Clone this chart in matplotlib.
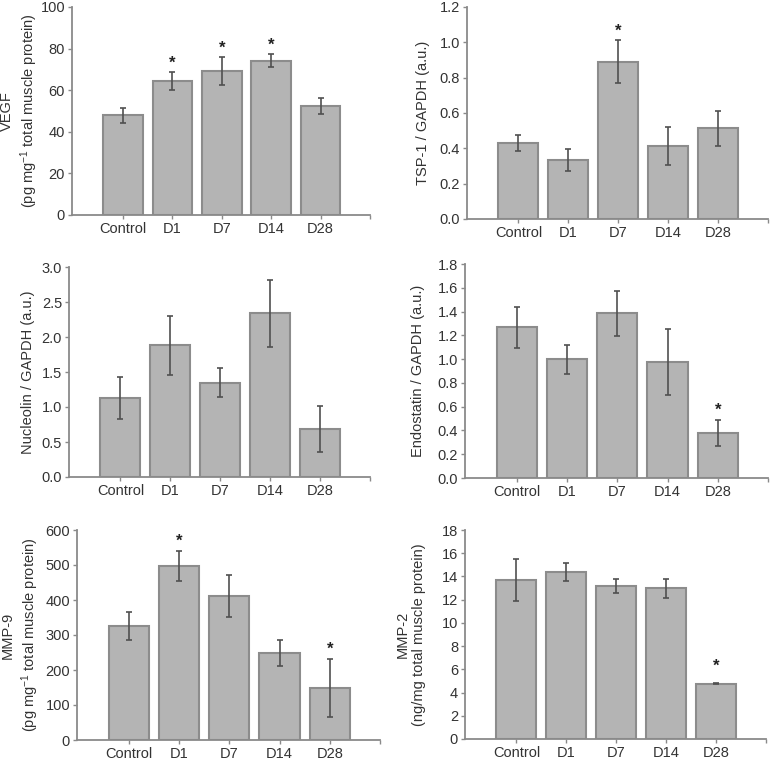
import matplotlib
matplotlib.use("Agg")
import matplotlib.pyplot as plt
from matplotlib.ticker import FormatStrFormatter

plt.rcParams['font.family'] = ['Liberation Sans', 'DejaVu Sans']
plt.rcParams['mathtext.fontset'] = 'custom'
plt.rcParams['mathtext.rm'] = 'Liberation Sans'
plt.rcParams['mathtext.default'] = 'regular'

groups = ['Control', 'D1', 'D7', 'D14', 'D28']

vegf = [48, 64.3, 69.1, 74.2, 52.3]
vegf_err = [3.6, 4.3, 6.8, 3.0, 3.8]

tsp1 = [0.431, 0.332, 0.891, 0.413, 0.514]
tsp1_err = [0.045, 0.063, 0.12, 0.105, 0.10]

nucleolin = [1.13, 1.88, 1.35, 2.34, 0.69]
nucleolin_err = [0.30, 0.42, 0.21, 0.48, 0.33]

endostatin = [1.267, 0.997, 1.384, 0.974, 0.376]
endostatin_err = [0.17, 0.12, 0.19, 0.28, 0.11]

mmp9 = [326, 497, 412, 248, 148]
mmp9_err = [40, 43, 60, 37, 83]

mmp2 = [13.66, 14.4, 13.2, 12.97, 4.77]
mmp2_err = [1.8, 0.75, 0.6, 0.83, 0.05]

# which groups carry a significance star
vegf_sig = [1, 2, 3]
tsp1_sig = [2]
nucleolin_sig = []
endostatin_sig = [4]
mmp9_sig = [1, 4]
mmp2_sig = [4]

panels = [
    (vegf, vegf_err, vegf_sig, 'VEGF\n(pg mg$^{-1}$ total muscle protein)', 100, 20, '%d', 0.045),
    (tsp1, tsp1_err, tsp1_sig, 'TSP-1 / GAPDH (a.u.)', 1.2, 0.2, '%.1f', 0.045),
    (nucleolin, nucleolin_err, nucleolin_sig, 'Nucleolin / GAPDH (a.u.)', 3.0, 0.5, '%.1f', 0.045),
    (endostatin, endostatin_err, endostatin_sig, 'Endostatin / GAPDH (a.u.)', 1.8, 0.2, '%.1f', 0.045),
    (mmp9, mmp9_err, mmp9_sig, 'MMP-9\n(pg mg$^{-1}$ total muscle protein)', 600, 100, '%d', 0.045),
    (mmp2, mmp2_err, mmp2_sig, 'MMP-2\n(ng/mg total muscle protein)', 18, 2, '%d', 0.08),
]

# axes boxes in pixels: left, right, top, bottom, y-label centre x
boxes = [
    (72, 370, 7, 215, 20),
    (467, 768, 7, 219, 423),
    (69, 370, 267, 477, 28),
    (465, 768, 264, 478, 418),
    (77, 380, 530, 740, 21),
    (465, 766, 530, 739, 411),
]

W, H = 772, 762
fig = plt.figure(figsize=(W / 100, H / 100), dpi=100)

txt = '#333333'
spine = '#8a8a8a'

for (vals, errs, sig, label, ymax, step, fmt, pad), (l, r, t, b, lx) in zip(panels, boxes):
    ax = fig.add_axes([l / W, 1 - b / H, (r - l) / W, (b - t) / H])
    x = list(range(len(groups)))
    ax.bar(x, vals, width=0.8, color='#b4b4b4', edgecolor='#8c8c8c', linewidth=1.5, zorder=2)
    ax.errorbar(x, vals, yerr=errs, fmt='none', ecolor='#505050', elinewidth=1.2,
                capsize=2.5, capthick=1.2, zorder=3)
    for i in sig:
        ax.text(i, vals[i] + errs[i] + pad * ymax, '*', ha='center', va='center',
                fontsize=12, fontweight='bold', color='#222222', zorder=4)
    ax.set_xlim(-1.03, 5.0)
    ax.set_ylim(0, ymax)
    ax.set_yticks([k * step for k in range(int(round(ymax / step)) + 1)])
    ax.yaxis.set_major_formatter(FormatStrFormatter(fmt))
    ax.set_xticks(x)
    ax.set_xticklabels(groups)
    ax.set_xticks([5.0], minor=True)
    for s in ['top', 'right']:
        ax.spines[s].set_visible(False)
    for s in ['left', 'bottom']:
        ax.spines[s].set_color(spine)
        ax.spines[s].set_linewidth(1.3)
    ax.tick_params(axis='both', which='both', direction='out', length=3, width=1,
                   color=spine, labelcolor=txt, labelsize=10.5, pad=2)
    ax.set_ylabel(label, fontsize=10.5, color=txt, linespacing=1.25, va='center')
    ax.yaxis.set_label_coords((lx - l) / (r - l), 0.5)

fig.savefig('out.png', dpi=100)
